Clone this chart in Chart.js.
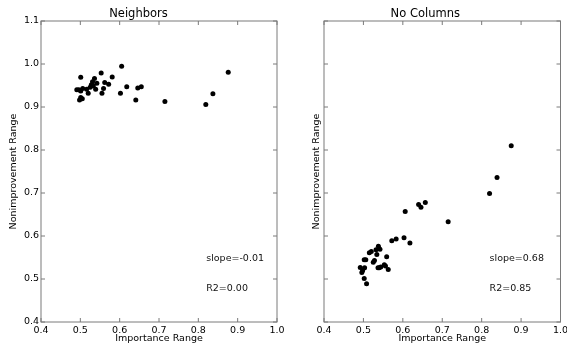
<!DOCTYPE html>
<html>
<head>
<meta charset="utf-8">
<script src="https://cdn.jsdelivr.net/npm/chart.js@4/dist/chart.umd.min.js"></script>
<style>
  html, body { margin: 0; padding: 0; background: #fff; }
  #wrap { position: relative; width: 567px; height: 349px; }
  canvas { position: absolute; top: 0; }
  #neighbors { left: 0; }
  #nocolumns { left: 290px; }
</style>
</head>
<body>
<div id="wrap">
  <canvas id="neighbors" width="290" height="349"></canvas>
  <canvas id="nocolumns" width="277" height="349"></canvas>
</div>
<script>
// Neighbors panel
const neighborsX = [0.876, 0.605, 0.553, 0.501, 0.581, 0.536, 0.531, 0.542, 0.562, 0.572, 0.528,
  0.533, 0.525, 0.618, 0.655, 0.646, 0.559, 0.539, 0.516, 0.506, 0.491, 0.496, 0.501, 0.520,
  0.555, 0.602, 0.837, 0.501, 0.505, 0.498, 0.641, 0.715, 0.819];
const neighborsY = [0.981, 0.995, 0.979, 0.969, 0.970, 0.966, 0.959, 0.955, 0.957, 0.953, 0.952,
  0.949, 0.946, 0.947, 0.947, 0.944, 0.943, 0.941, 0.941, 0.943, 0.940, 0.940, 0.937, 0.932,
  0.932, 0.932, 0.931, 0.922, 0.919, 0.916, 0.916, 0.913, 0.906];

// No Columns panel
const noColumnsX = [0.875, 0.839, 0.820, 0.657, 0.640, 0.646, 0.606, 0.715, 0.603, 0.583, 0.572,
  0.618, 0.538, 0.542, 0.532, 0.520, 0.515, 0.534, 0.559, 0.502, 0.506, 0.528, 0.525, 0.553,
  0.556, 0.544, 0.537, 0.540, 0.492, 0.503, 0.563, 0.498, 0.496, 0.502, 0.508];
const noColumnsY = [0.810, 0.736, 0.699, 0.678, 0.673, 0.667, 0.657, 0.633, 0.596, 0.593, 0.589,
  0.584, 0.576, 0.569, 0.568, 0.564, 0.561, 0.557, 0.552, 0.545, 0.545, 0.543, 0.539, 0.533,
  0.530, 0.528, 0.526, 0.526, 0.527, 0.526, 0.522, 0.520, 0.515, 0.501, 0.489];

const neighborsNotes = ['slope=-0.01', 'R2=0.00'];
const noColumnsNotes = ['slope=0.68', 'R2=0.85'];

const xTicks = [0.4, 0.5, 0.6, 0.7, 0.8, 0.9, 1.0];
const yTicks = [0.4, 0.5, 0.6, 0.7, 0.8, 0.9, 1.0, 1.1];

const FONT = '"DejaVu Sans", sans-serif';

// box around the plot, inward ticks on all sides, fit stats text
const framePlugin = {
  id: 'frame',
  afterDraw(chart, args, opts) {
    const { ctx, chartArea: a, scales: { x, y } } = chart;
    ctx.save();
    ctx.strokeStyle = '#7a7a7a';
    ctx.lineWidth = 1;
    ctx.strokeRect(a.left, a.top, a.right - a.left, a.bottom - a.top);
    ctx.beginPath();
    xTicks.forEach(v => {
      const px = x.getPixelForValue(v);
      ctx.moveTo(px, a.bottom); ctx.lineTo(px, a.bottom - 4);
      ctx.moveTo(px, a.top); ctx.lineTo(px, a.top + 4);
    });
    yTicks.forEach(v => {
      const py = y.getPixelForValue(v);
      ctx.moveTo(a.left, py); ctx.lineTo(a.left + 4, py);
      ctx.moveTo(a.right, py); ctx.lineTo(a.right - 4, py);
    });
    ctx.stroke();

    ctx.fillStyle = '#111';
    ctx.font = '9.5px ' + FONT;
    ctx.textAlign = 'left';
    ctx.textBaseline = 'middle';
    const tx = x.getPixelForValue(0.82);
    ctx.fillText(opts.notes[0], tx, y.getPixelForValue(0.548));
    ctx.fillText(opts.notes[1], tx, y.getPixelForValue(0.478));
    ctx.restore();
  }
};

function makePanel(canvas, title, xs, ys, notes, opt) {
  return new Chart(canvas, {
    type: 'scatter',
    data: {
      datasets: [{
        data: xs.map((v, i) => ({ x: v, y: ys[i] })),
        backgroundColor: '#000',
        borderWidth: 0,
        pointRadius: 2.5,
        pointHoverRadius: 2.5
      }]
    },
    options: {
      responsive: false,
      animation: false,
      events: [],
      layout: { padding: { left: 0, right: opt.padRight, top: 0, bottom: 0 } },
      plugins: {
        legend: { display: false },
        tooltip: { enabled: false },
        title: {
          display: true,
          text: title,
          color: '#000',
          font: { family: FONT, size: 11.5, lineHeight: 1, weight: 'normal' },
          padding: { top: 8.25, bottom: 1.25 }
        },
        frame: { notes: notes }
      },
      scales: {
        x: {
          type: 'linear',
          min: 0.4, max: 1.0,
          grid: { display: false, drawTicks: false },
          border: { display: false },
          afterBuildTicks: s => { s.ticks = xTicks.map(v => ({ value: v })); },
          ticks: {
            color: '#000',
            padding: 2.5,
            font: { family: FONT, size: 9.5 },
            callback: v => v.toFixed(1)
          },
          title: {
            display: true,
            text: 'Importance Range',
            color: '#000',
            font: { family: FONT, size: 9.5 },
            padding: { top: 0, bottom: 4.3 }
          },
          afterFit: s => { s.height = 27; s.paddingLeft = 0; s.paddingRight = 0; }
        },
        y: {
          type: 'linear',
          min: 0.4, max: 1.1,
          grid: { display: false, drawTicks: false },
          border: { display: false },
          afterBuildTicks: s => { s.ticks = yTicks.map(v => ({ value: v })); },
          ticks: {
            display: opt.yLabels,
            color: '#000',
            padding: 2,
            font: { family: FONT, size: 9.5 },
            callback: v => v.toFixed(1)
          },
          title: {
            display: true,
            text: 'Nonimprovement Range',
            color: '#000',
            font: { family: FONT, size: 9.5 },
            padding: { top: opt.yTitlePad, bottom: 0 }
          },
          afterFit: s => { s.width = opt.yWidth; s.paddingTop = 0; s.paddingBottom = 0; }
        }
      }
    },
    plugins: [framePlugin]
  });
}

makePanel(document.getElementById('neighbors'), 'Neighbors', neighborsX, neighborsY, neighborsNotes,
  { padRight: 13, yLabels: true, yTitlePad: 8.3, yWidth: 41 });
makePanel(document.getElementById('nocolumns'), 'No Columns', noColumnsX, noColumnsY, noColumnsNotes,
  { padRight: 6.5, yLabels: false, yTitlePad: 20.6, yWidth: 34 });
</script>
</body>
</html>
